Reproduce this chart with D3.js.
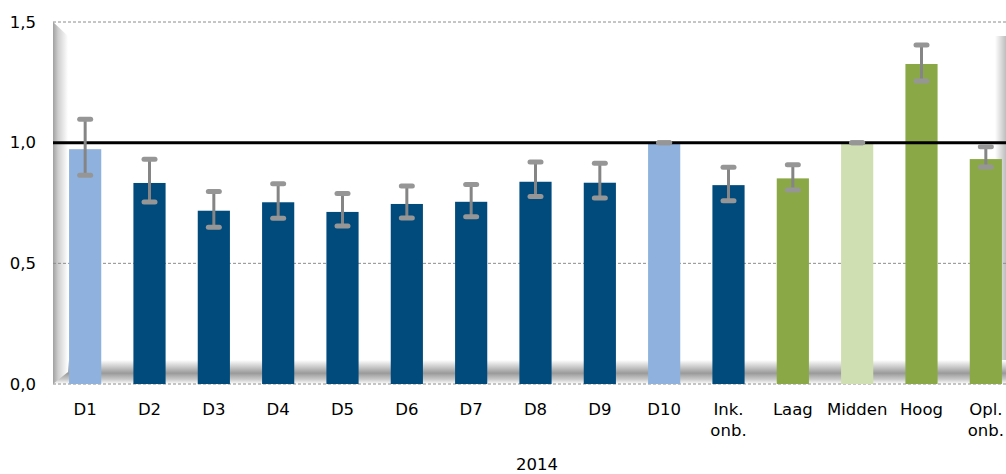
<!DOCTYPE html><html><head><meta charset="UTF-8"><script src="https://d3js.org/d3.v7.min.js"></script><style>
    body { margin: 0; background: #fff; }
    text { font-family: "DejaVu Sans", sans-serif; fill: #000; }
</style></head><body><div id="chart"></div><script>
const categories = ["D1","D2","D3","D4","D5","D6","D7","D8","D9","D10","Ink.\nonb.","Laag","Midden","Hoog","Opl.\nonb."];
const values = [0.973,0.833,0.718,0.753,0.713,0.746,0.755,0.838,0.834,1.0,0.824,0.852,1.0,1.326,0.932];
const lower  = [0.865,0.754,0.649,0.687,0.655,0.688,0.693,0.777,0.771,1.0,0.759,0.804,1.0,1.256,0.899];
const upper  = [1.097,0.931,0.798,0.830,0.789,0.820,0.827,0.920,0.915,1.0,0.898,0.908,1.0,1.405,0.983];
const barColors = ["#8eb1dd","#004a7c","#004a7c","#004a7c","#004a7c","#004a7c","#004a7c","#004a7c","#004a7c","#8eb1dd","#004a7c","#8aa946","#d0dfb2","#8aa946","#8aa946"];
const yTicks = [0, 0.5, 1.0, 1.5];
const refValue = 1.0;
const xTitle = "2014";

const W = 1006, H = 474;
const svg = d3.select('#chart').append('svg').attr('width', W).attr('height', H);
const defs = svg.append('defs');

const x = d3.scaleBand().domain(categories).range([53, 1018]).paddingInner(0.5).paddingOuter(0.25);
const y = d3.scaleLinear().domain([0, 1.5]).range([384, 22]);

// 3D wall and floor shading
const gl = defs.append('linearGradient').attr('id', 'lwall').attr('x1', 0).attr('x2', 1).attr('y1', 0).attr('y2', 0);
gl.append('stop').attr('offset', 0).attr('stop-color', '#a0a0a0');
gl.append('stop').attr('offset', 0.35).attr('stop-color', '#cfcfcf');
gl.append('stop').attr('offset', 1).attr('stop-color', '#ffffff');
const gf = defs.append('linearGradient').attr('id', 'floor').attr('x1', 0).attr('x2', 0).attr('y1', 0).attr('y2', 1);
gf.append('stop').attr('offset', 0).attr('stop-color', '#ffffff');
gf.append('stop').attr('offset', 0.55).attr('stop-color', '#9a9a9a');
gf.append('stop').attr('offset', 0.8).attr('stop-color', '#c8c8c8');
gf.append('stop').attr('offset', 1).attr('stop-color', '#ffffff');
const gr = defs.append('linearGradient').attr('id', 'rwall').attr('x1', 0).attr('x2', 1).attr('y1', 0).attr('y2', 0);
gr.append('stop').attr('offset', 0).attr('stop-color', '#ffffff');
gr.append('stop').attr('offset', 1).attr('stop-color', '#bdbdbd');

svg.append('polygon').attr('points', '995,36 1006,36 1006,370 995,370').attr('fill', 'url(#rwall)');
svg.append('polygon').attr('points', '53,360 67,360 1006,360 1006,384 53,384').attr('fill', 'url(#floor)');
svg.append('polygon').attr('points', '53,22 68,36 68,372 53,384').attr('fill', 'url(#lwall)');

// gridlines
svg.append('g').selectAll('line').data(yTicks.filter(d => d !== refValue)).enter().append('line')
    .attr('x1', 53).attr('x2', W).attr('y1', d => y(d)).attr('y2', d => y(d))
    .attr('stroke', '#8c8c8c').attr('stroke-width', 1).attr('stroke-dasharray', '3,2');

// bars
svg.append('g').selectAll('rect').data(values).enter().append('rect')
    .attr('x', (d, i) => x(categories[i]))
    .attr('width', x.bandwidth())
    .attr('y', d => y(d))
    .attr('height', d => y(0) - y(d))
    .attr('fill', (d, i) => barColors[i]);

// reference line
svg.append('line').attr('x1', 53).attr('x2', W).attr('y1', y(refValue)).attr('y2', y(refValue))
    .attr('stroke', '#000').attr('stroke-width', 3);

// error bars
const eb = svg.append('g');
categories.forEach((c, i) => {
    const cx = x(c) + x.bandwidth() / 2;
    eb.append('line').attr('x1', cx).attr('x2', cx).attr('y1', y(upper[i])).attr('y2', y(lower[i]))
        .attr('stroke', '#858585').attr('stroke-width', 3);
    [upper[i], lower[i]].forEach(v => {
        eb.append('rect').attr('x', cx - 8).attr('y', y(v) - 2.5).attr('width', 16).attr('height', 5)
            .attr('rx', 2.5).attr('fill', '#969696');
    });
});

// y labels
svg.append('g').selectAll('text').data(yTicks).enter().append('text')
    .attr('x', 36).attr('y', d => y(d)).attr('dy', '0.35em').attr('text-anchor', 'end')
    .style('font-size', '16.5px')
    .text(d => d3.format('.1f')(d).replace('.', ','));

// x labels
const xl = svg.append('g');
categories.forEach(c => {
    const t = xl.append('text').attr('x', x(c) + x.bandwidth() / 2).attr('y', 415)
        .attr('text-anchor', 'middle').style('font-size', '16.5px');
    c.split('\n').forEach((line, j) => {
        t.append('tspan').attr('x', x(c) + x.bandwidth() / 2).attr('dy', j === 0 ? 0 : 21).text(line);
    });
});

svg.append('text').attr('x', 537).attr('y', 470).attr('text-anchor', 'middle')
    .style('font-size', '16.5px').text(xTitle);
</script></body></html>
